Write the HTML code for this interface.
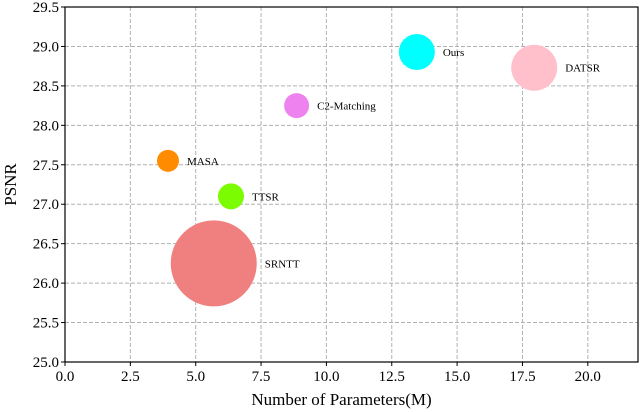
<!DOCTYPE html>
<html><head><meta charset="utf-8"><style>
html,body{margin:0;padding:0;background:#fff;}
svg{display:block;font-family:"Liberation Serif",serif;}
</style></head><body>
<svg id="chart" width="640" height="412" viewBox="0 0 640 412"></svg>
<script>
const methods=["Ours","DATSR","C2-Matching","MASA","TTSR","SRNTT"];
const params=[13.46,17.95,8.86,3.94,6.35,5.69];
const psnr=[28.93,28.73,28.25,27.55,27.10,26.25];
const bubbleSize=[18,23,12.5,11,13,43];
const colors=["#00ffff","#ffc0cb","#ee82ee","#ff8c00","#7cfc00","#f08080"];
const xTicks=[0,2.5,5,7.5,10,12.5,15,17.5,20];
const yTicks=[25.0,25.5,26.0,26.5,27.0,27.5,28.0,28.5,29.0,29.5];

const L=65,R=638,T=7,B=362,xMin=0,xMax=21.92,yMin=25,yMax=29.5;
const sx=v=>L+(v-xMin)/(xMax-xMin)*(R-L);
const sy=v=>B-(v-yMin)/(yMax-yMin)*(B-T);
const svg=document.getElementById('chart');
const NS="http://www.w3.org/2000/svg";
function mk(t,a){const e=document.createElementNS(NS,t);for(const k in a)e.setAttribute(k,a[k]);svg.appendChild(e);return e;}

xTicks.forEach(v=>{
  const g=mk('line',{x1:sx(v),x2:sx(v),y1:T,y2:B,stroke:'#b0b0b0','stroke-width':1,'stroke-dasharray':'4,2'});
  
  
  const tk=mk('line',{x1:sx(v),x2:sx(v),y1:B,y2:B+4,stroke:'#000'});
  
  
  const t=mk('text',{x:sx(v),y:B+19,'text-anchor':'middle','font-size':15,fill:'#000'});
  t.textContent=v.toFixed(1);
  
  
});
yTicks.forEach(v=>{
  const g=mk('line',{x1:L,x2:R,y1:sy(v),y2:sy(v),stroke:'#b0b0b0','stroke-width':1,'stroke-dasharray':'4,2'});
  
  
  const tk=mk('line',{x1:L-4,x2:L,y1:sy(v),y2:sy(v),stroke:'#000'});
  
  
  const t=mk('text',{x:L-6,y:sy(v)+5,'text-anchor':'end','font-size':15,fill:'#000'});
  t.textContent=v.toFixed(1);
  
  
});
methods.forEach((m,i)=>{
  const c=mk('ellipse',{cx:sx(params[i]),cy:sy(psnr[i]),rx:bubbleSize[i],ry:bubbleSize[i],fill:colors[i]});
  
  
  const t=mk('text',{x:sx(params[i])+bubbleSize[i]+8,y:sy(psnr[i])+4,'font-size':11,fill:'#000'});
  t.textContent=m;
  
  
});
const frame=mk('rect',{x:L,y:T,width:R-L,height:B-T,fill:'none',stroke:'#000','stroke-width':1.2});


const xt=mk('text',{x:(L+R)/2-10,y:405,'text-anchor':'middle','font-size':17,fill:'#000'});
xt.textContent='Number of Parameters(M)';


const yt=mk('text',{x:0,y:0,'text-anchor':'middle','font-size':17,fill:'#000',transform:`translate(16,${(T+B)/2}) rotate(-90)`});
yt.textContent='PSNR';


</script>
</body></html>
